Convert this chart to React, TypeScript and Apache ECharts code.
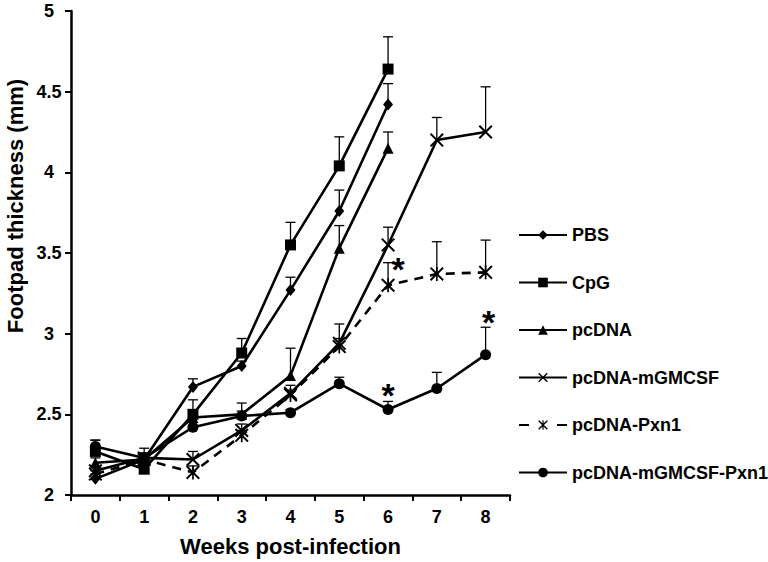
import React, { useEffect, useRef } from 'react';
import * as echarts from 'echarts';

const FONT = 'Arial, "Liberation Sans", Helvetica, sans-serif';

const weeks = ['0', '1', '2', '3', '4', '5', '6', '7', '8'];

const pbsValues = [2.10, 2.22, 2.67, 2.80, 3.27, 3.76, 4.42];
const pbsErrors = [0.03, 0.04, 0.05, 0.03, 0.08, 0.13, 0.13];

const cpgValues = [2.27, 2.16, 2.50, 2.88, 3.55, 4.04, 4.64];
const cpgErrors = [0.07, 0.03, 0.09, 0.09, 0.14, 0.18, 0.20];

const pcdnaValues = [2.20, 2.22, 2.48, 2.50, 2.74, 3.53, 4.15];
const pcdnaErrors = [0.03, 0.03, 0.03, 0.07, 0.17, 0.14, 0.10];

const gmcsfValues = [2.15, 2.23, 2.22, 2.40, 2.63, 2.94, 3.55, 4.20, 4.25];
const gmcsfErrors = [0.03, 0.06, 0.05, 0.04, 0.05, 0.12, 0.11, 0.14, 0.28];

const pxn1Values = [2.13, 2.22, 2.14, 2.37, 2.62, 2.92, 3.30, 3.37, 3.38];
const pxn1Errors = [0.02, 0.02, 0.04, 0.03, 0.03, 0.05, 0.14, 0.20, 0.20];

const comboValues = [2.30, 2.23, 2.42, 2.49, 2.51, 2.69, 2.53, 2.66, 2.87];
const comboErrors = [0.04, 0.03, 0.03, 0.03, 0.02, 0.04, 0.05, 0.10, 0.17];

// significance asterisks: week index and value of the mark
const sigWeeks = [6, 6, 8];
const sigValues = [3.45, 2.67, 3.125];

const yAxisTitle = 'Footpad thickness (mm)';
const xAxisTitle = 'Weeks post-infection';

const X_PATH = 'path://M2,0L10,8L18,0L20,2L12,10L20,18L18,20L10,12L2,20L0,18L8,10L0,2Z';
const STAR_PATH = 'path://M2,0L10,8L18,0L20,2L12,10L20,18L18,20L10,12L2,20L0,18L8,10L0,2Z M8.8,0L11.2,0L11.2,20L8.8,20Z';

const groups = [
  { name: 'PBS', values: pbsValues, errors: pbsErrors, symbol: 'diamond', size: [10, 12], dashed: false },
  { name: 'CpG', values: cpgValues, errors: cpgErrors, symbol: 'rect', size: 11, dashed: false },
  { name: 'pcDNA', values: pcdnaValues, errors: pcdnaErrors, symbol: 'triangle', size: 11, dashed: false },
  { name: 'pcDNA-mGMCSF', values: gmcsfValues, errors: gmcsfErrors, symbol: X_PATH, size: 14, dashed: false },
  { name: 'pcDNA-Pxn1', values: pxn1Values, errors: pxn1Errors, symbol: STAR_PATH, size: 14, dashed: true },
  { name: 'pcDNA-mGMCSF-Pxn1', values: comboValues, errors: comboErrors, symbol: 'circle', size: 11, dashed: false },
];

const sigOffsets = [10, 0, 3];

function buildOption() {
  const series: any[] = [];
  groups.forEach((g) => {
    series.push({
      name: 'err-' + g.name,
      type: 'custom',
      z: 1,
      silent: true,
      encode: { x: 0, y: 1 },
      data: g.values.map((v, i) => [i, v, g.errors[i]]),
      renderItem: (params: any, api: any) => {
        const x = api.value(0);
        const v = api.value(1);
        const e = api.value(2);
        const p0 = api.coord([x, v]);
        const p1 = api.coord([x, v + e]);
        const st = { stroke: '#000', lineWidth: 1.3 };
        return {
          type: 'group',
          children: [
            { type: 'line', shape: { x1: p0[0], y1: p0[1], x2: p1[0], y2: p1[1] }, style: st },
            { type: 'line', shape: { x1: p1[0] - 5, y1: p1[1], x2: p1[0] + 5, y2: p1[1] }, style: st },
          ],
        };
      },
    });
  });
  groups.forEach((g) => {
    series.push({
      name: g.name,
      type: 'line',
      z: 3,
      data: g.values,
      symbol: g.symbol,
      symbolSize: g.size,
      showSymbol: true,
      itemStyle: { color: '#000', borderColor: '#000', borderWidth: 0 },
      lineStyle: { color: '#000', width: 2.6, type: g.dashed ? [9, 7] : 'solid' },
    });
  });
  series.push({
    name: 'sig',
    type: 'scatter',
    z: 4,
    silent: true,
    symbolSize: 0,
    itemStyle: { color: '#000', opacity: 1 },
    data: sigWeeks.map((w, i) => ({
      value: [w, sigValues[i]],
      label: { offset: [sigOffsets[i], 8] },
    })),
    label: {
      show: true,
      position: 'inside',
      formatter: '*',
      fontSize: 34,
      fontWeight: 'bold',
      color: '#000',
      opacity: 1,
      textBorderWidth: 0,
      textBorderColor: 'transparent',
      fontFamily: FONT,
    },
  });

  const axisText = { color: '#000', fontWeight: 'bold' as const, fontFamily: FONT };

  return {
    animation: false,
    backgroundColor: '#ffffff',
    textStyle: { fontFamily: FONT },
    grid: { left: 71, right: 258, top: 11, bottom: 66, containLabel: false },
    legend: {
      orient: 'vertical',
      left: 513,
      top: 221,
      itemWidth: 48,
      itemHeight: 12,
      itemGap: 29.5,
      selectedMode: false,
      textStyle: { ...axisText, fontSize: 18, lineHeight: 18 },
      data: groups.map((g) =>
        g.dashed ? { name: g.name, lineStyle: { type: [10, 28] } } : { name: g.name }
      ),
    },
    graphic: [
      {
        type: 'text',
        x: 15,
        y: 206,
        rotation: Math.PI / 2,
        style: {
          text: yAxisTitle,
          fill: '#000',
          font: 'bold 22px ' + FONT,
          align: 'center',
          verticalAlign: 'middle',
        },
      },
    ],
    xAxis: {
      type: 'category',
      data: weeks,
      boundaryGap: true,
      name: xAxisTitle,
      nameLocation: 'middle',
      nameGap: 40,
      nameTextStyle: { ...axisText, fontSize: 22 },
      axisLine: { show: true, lineStyle: { color: '#000', width: 2.5 } },
      axisTick: { show: true, length: 6, lineStyle: { color: '#000', width: 2 } },
      axisLabel: { ...axisText, fontSize: 18, margin: 13 },
      splitLine: { show: false },
    },
    yAxis: {
      type: 'value',
      min: 2,
      max: 5,
      interval: 0.5,
      axisLine: { show: true, lineStyle: { color: '#000', width: 2.5 } },
      axisTick: { show: true, length: 6, lineStyle: { color: '#000', width: 2 } },
      axisLabel: { ...axisText, fontSize: 18, align: 'center', margin: 22 },
      splitLine: { show: false },
    },
    series,
  };
}

export default function App() {
  const ref = useRef<HTMLDivElement>(null);
  useEffect(() => {
    if (!ref.current) return;
    const chart = echarts.init(ref.current, null, { renderer: 'svg' });
    chart.setOption(buildOption() as any);
    return () => chart.dispose();
  }, []);
  return <div ref={ref} style={{ width: 768, height: 562, position: 'absolute', left: 0, top: 0 }} />;
}
